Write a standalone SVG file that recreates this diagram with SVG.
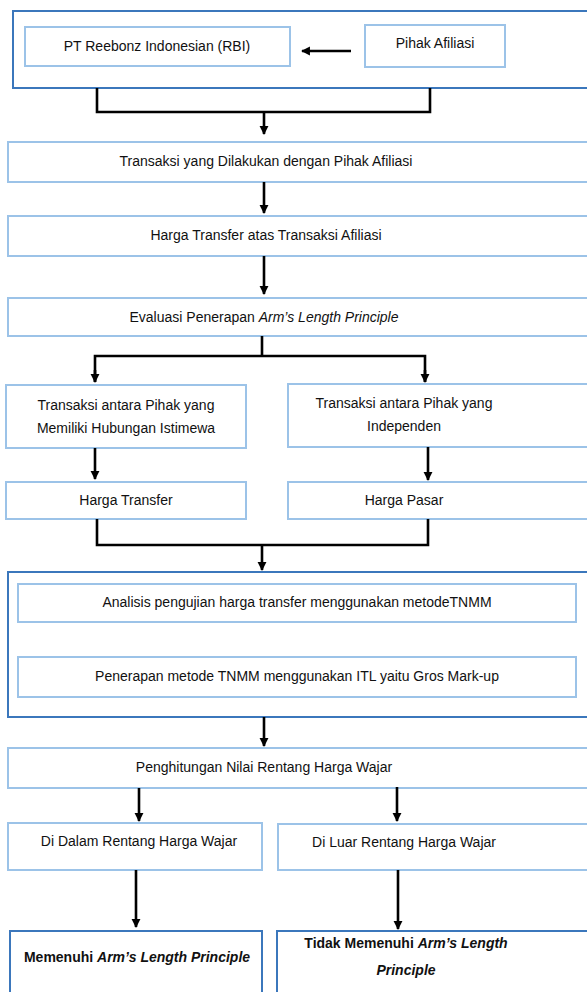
<svg xmlns="http://www.w3.org/2000/svg" width="587" height="992" viewBox="0 0 587 992">
<style>
.outer{fill:#fff;stroke:#3b77bc;stroke-width:2}
.box{fill:#fff;stroke:#9cc3e8;stroke-width:2}
.t{font-family:"Liberation Sans",Arial,sans-serif;font-size:14px;fill:#111;text-anchor:middle}
.b{font-weight:bold}
.c{fill:none;stroke:#000;stroke-width:2.6}
</style>
<defs>
<marker id="ah" viewBox="0 0 10 10" refX="9" refY="5" markerWidth="3.4" markerHeight="3.8" orient="auto" markerUnits="strokeWidth">
<path d="M0,0 L10,5 L0,10 z" fill="#000"/>
</marker>
</defs>
<rect width="587" height="992" fill="#fff"/>
<g id="grp1"><rect class="outer" x="13" y="11" width="580" height="77"/></g>
<g id="n_rbi"><rect class="box" x="25" y="27" width="265" height="39"/><text class="t" x="157" y="51">PT Reebonz Indonesian (RBI)</text></g>
<g id="n_pihak"><rect class="box" x="365" y="25" width="140" height="42"/><text class="t" x="435" y="48">Pihak Afiliasi</text></g>
<g id="n_trans"><rect class="box" x="8" y="142" width="585" height="40"/><text class="t" x="266" y="166">Transaksi yang Dilakukan dengan Pihak Afiliasi</text></g>
<g id="n_harga"><rect class="box" x="8" y="216" width="585" height="40"/><text class="t" x="266" y="240">Harga Transfer atas Transaksi Afiliasi</text></g>
<g id="n_eval"><rect class="box" x="8" y="298" width="585" height="38"/><text class="t" x="264" y="322">Evaluasi Penerapan <tspan font-style="italic">Arm’s Length Principle</tspan></text></g>
<g id="n_istimewa"><rect class="box" x="6" y="385" width="240" height="63"/><text class="t" x="126" y="410">Transaksi antara Pihak yang</text><text class="t" x="126" y="433">Memiliki Hubungan Istimewa</text></g>
<g id="n_indep"><rect class="box" x="288" y="384" width="305" height="63"/><text class="t" x="404" y="408">Transaksi antara Pihak yang</text><text class="t" x="404" y="431">Independen</text></g>
<g id="n_ht"><rect class="box" x="6" y="482" width="240" height="37"/><text class="t" x="126" y="505">Harga Transfer</text></g>
<g id="n_hp"><rect class="box" x="288" y="482" width="305" height="37"/><text class="t" x="404" y="505">Harga Pasar</text></g>
<g id="grp2"><rect class="outer" x="8" y="572" width="585" height="145"/></g>
<g id="n_analisis"><rect class="box" x="18" y="584" width="558" height="38"/><text class="t" x="297" y="607">Analisis pengujian harga transfer menggunakan metodeTNMM</text></g>
<g id="n_penerapan"><rect class="box" x="18" y="657" width="558" height="40"/><text class="t" x="297" y="681">Penerapan metode TNMM menggunakan ITL yaitu Gros Mark-up</text></g>
<g id="n_hitung"><rect class="box" x="8" y="748" width="585" height="40"/><text class="t" x="264" y="772">Penghitungan Nilai Rentang Harga Wajar</text></g>
<g id="n_dalam"><rect class="box" x="8" y="823" width="254" height="47"/><text class="t" x="139" y="846">Di Dalam Rentang Harga Wajar</text></g>
<g id="n_luar"><rect class="box" x="278" y="824" width="315" height="46"/><text class="t" x="404" y="847">Di Luar Rentang Harga Wajar</text></g>
<g id="n_memenuhi"><rect class="outer" x="10" y="931" width="252" height="70"/><text class="t b" x="137" y="962">Memenuhi <tspan font-style="italic">Arm’s Length Principle</tspan></text></g>
<g id="n_tidak"><rect class="outer" x="277" y="931" width="316" height="70"/><text class="t b" x="406" y="948">Tidak Memenuhi <tspan font-style="italic">Arm’s Length</tspan></text><text class="t b" x="406" y="975" font-style="italic">Principle</text></g>
<g id="connectors">
<path class="c" d="M351,51 H302" marker-end="url(#ah)"/>
<path class="c" d="M97,88 V112 H430 V88"/>
<path class="c" d="M264,112 V134" marker-end="url(#ah)"/>
<path class="c" d="M264,182 V213" marker-end="url(#ah)"/>
<path class="c" d="M264,256 V294" marker-end="url(#ah)"/>
<path class="c" d="M262,336 V356"/>
<path class="c" d="M95,382 V356 H425 V382"/>
<path class="c" d="M95,370 V382" marker-end="url(#ah)"/>
<path class="c" d="M425,370 V382" marker-end="url(#ah)"/>
<path class="c" d="M95,448 V479" marker-end="url(#ah)"/>
<path class="c" d="M428,447 V480" marker-end="url(#ah)"/>
<path class="c" d="M97,519 V545 H428 V519"/>
<path class="c" d="M262,545 V570" marker-end="url(#ah)"/>
<path class="c" d="M264,717 V746" marker-end="url(#ah)"/>
<path class="c" d="M139,788 V821" marker-end="url(#ah)"/>
<path class="c" d="M397,787 V821" marker-end="url(#ah)"/>
<path class="c" d="M136,870 V927" marker-end="url(#ah)"/>
<path class="c" d="M398,870 V929" marker-end="url(#ah)"/>
</g>
</svg>
